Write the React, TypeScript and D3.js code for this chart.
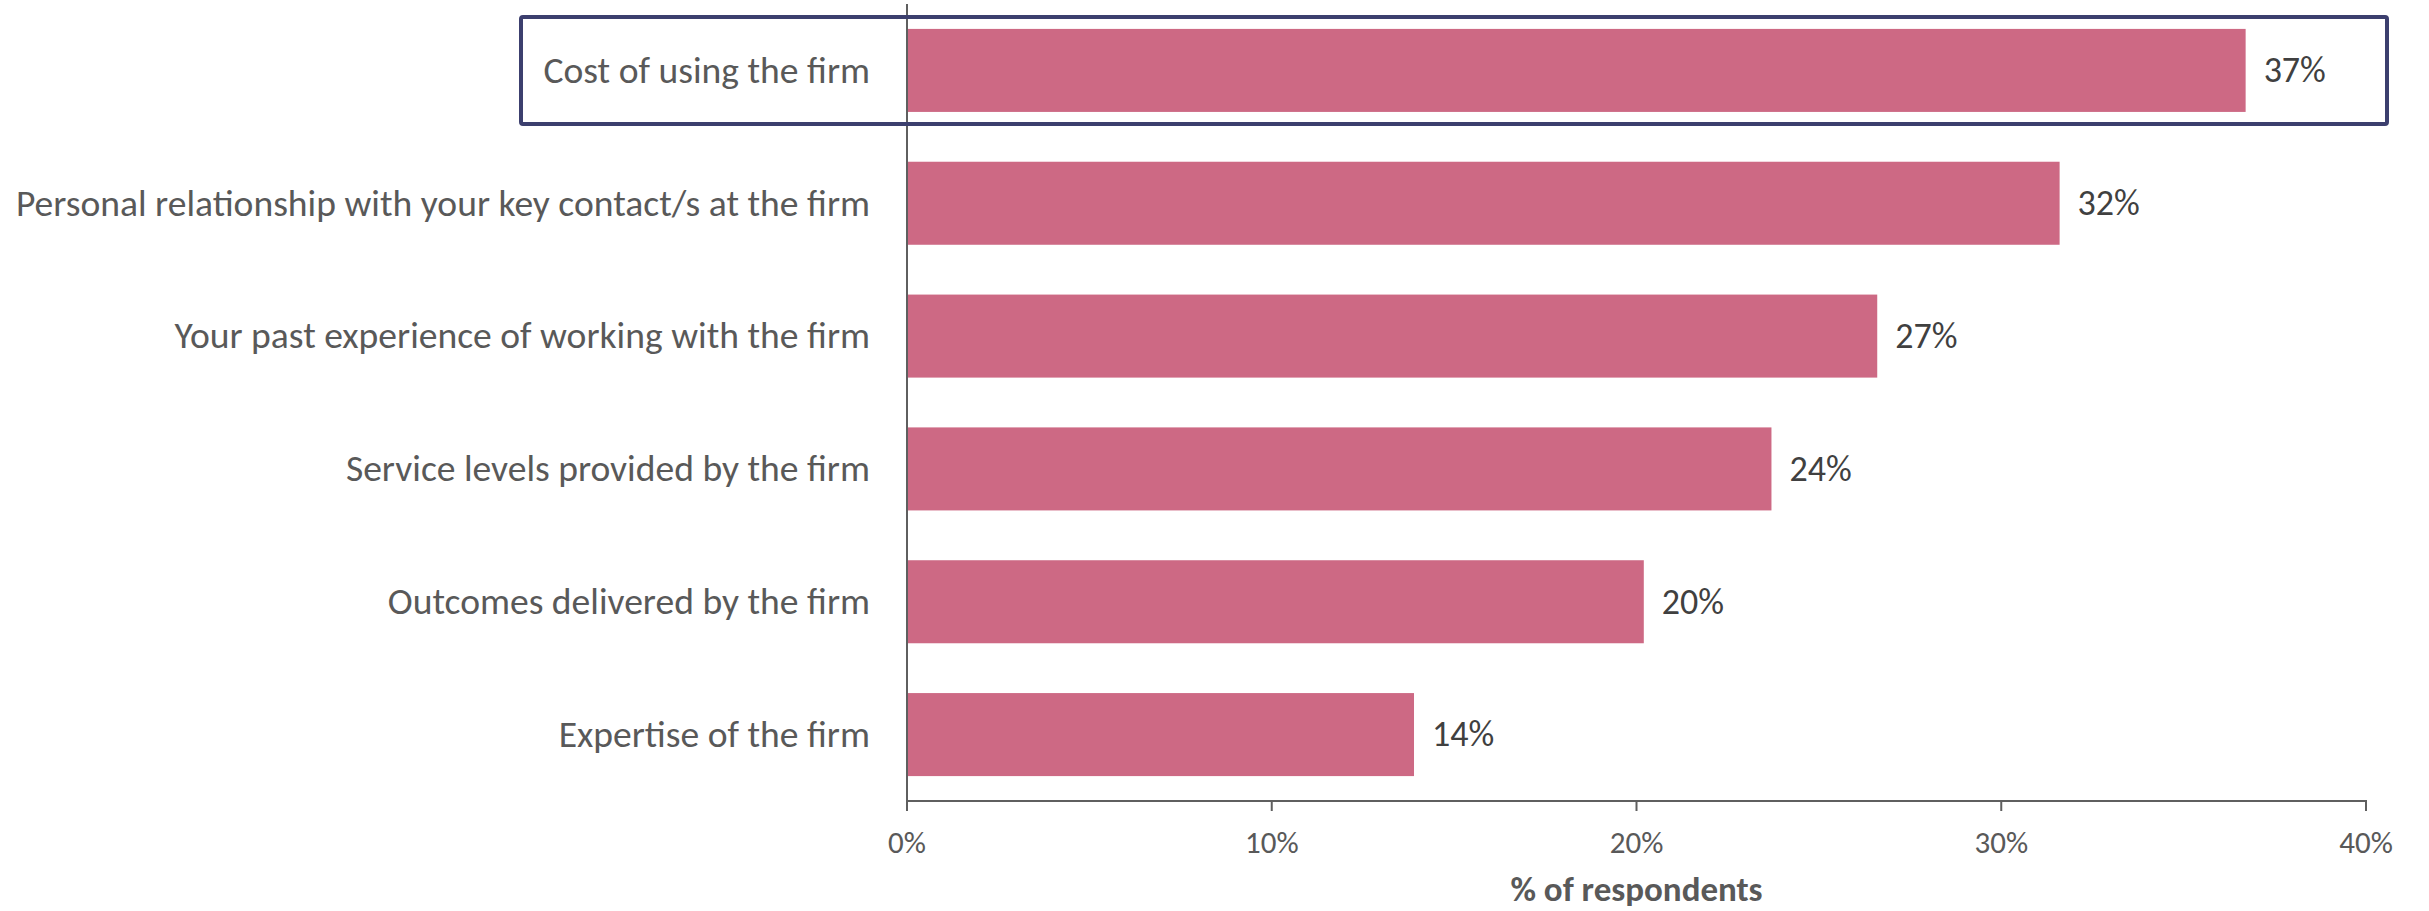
import React from "react";
import * as d3 from "d3";

const categories: string[] = [
  "Cost of using the firm",
  "Personal relationship with your key contact/s at the firm",
  "Your past experience of working with the firm",
  "Service levels provided by the firm",
  "Outcomes delivered by the firm",
  "Expertise of the firm",
];
const values: number[] = [36.7, 31.6, 26.6, 23.7, 20.2, 13.9];
const valueLabels: string[] = ["37%", "32%", "27%", "24%", "20%", "14%"];
const xTicks: number[] = [0, 10, 20, 30, 40];
const xTickLabels: string[] = ["0%", "10%", "20%", "30%", "40%"];
const xTitle = "% of respondents";
const highlighted = 0;

const W = 2429;
const H = 911;
const FONT = "Carlito, Calibri, 'Liberation Sans', Arial, sans-serif";

export default function App() {
  const x = d3.scaleLinear().domain([0, 40]).range([907, 2366]);
  const y = d3
    .scaleBand<string>()
    .domain(categories)
    .range([4, 801])
    .paddingInner(0.375)
    .paddingOuter(0.1875);
  const bw = y.bandwidth();
  const axisColor = "#5f5f5f";
  const hy = (y(categories[highlighted]) as number) + bw / 2;

  return (
    <svg
      width={W}
      height={H}
      style={{ position: "absolute", left: 0, top: 0, background: "#fff" }}
      fontFamily={FONT}
    >
      {/* bars */}
      {categories.map((c, i) => (
        <rect
          key={c}
          x={x(0)}
          y={y(c) as number}
          width={x(values[i]) - x(0)}
          height={bw}
          fill="#CD6984"
        />
      ))}
      {/* value labels */}
      {categories.map((c, i) => (
        <text
          key={"v" + c}
          x={x(values[i]) + 18}
          y={(y(c) as number) + bw / 2}
          dy="0.33em"
          fontSize={36}
          fill="#404040"
        >
          {valueLabels[i]}
        </text>
      ))}
      {/* category labels */}
      {categories.map((c) => (
        <text
          key={"c" + c}
          x={x(0) - 37}
          y={(y(c) as number) + bw / 2}
          dy="0.33em"
          textAnchor="end"
          fontSize={37.6}
          fill="#595959"
        >
          {c}
        </text>
      ))}
      {/* axes */}
      <line x1={x(0)} x2={x(0)} y1={4} y2={801} stroke={axisColor} strokeWidth={2} />
      <line x1={x(0) - 1} x2={x(40) + 1} y1={801} y2={801} stroke={axisColor} strokeWidth={2} />
      {xTicks.map((t, i) => (
        <g key={"t" + t}>
          <line x1={x(t)} x2={x(t)} y1={801} y2={811} stroke={axisColor} strokeWidth={2} />
          <text
            x={x(t)}
            y={853}
            textAnchor="middle"
            fontSize={31}
            fill="#595959"
          >
            {xTickLabels[i]}
          </text>
        </g>
      ))}
      <text
        x={(x(0) + x(40)) / 2}
        y={901}
        textAnchor="middle"
        fontSize={35}
        fontWeight="bold"
        fill="#595959"
      >
        {xTitle}
      </text>
      {/* highlight box */}
      <rect
        x={521}
        y={hy - 53.5}
        width={x(40) + 21 - 521}
        height={107}
        rx={2}
        fill="none"
        stroke="#3C3F6E"
        strokeWidth={4}
      />
    </svg>
  );
}
